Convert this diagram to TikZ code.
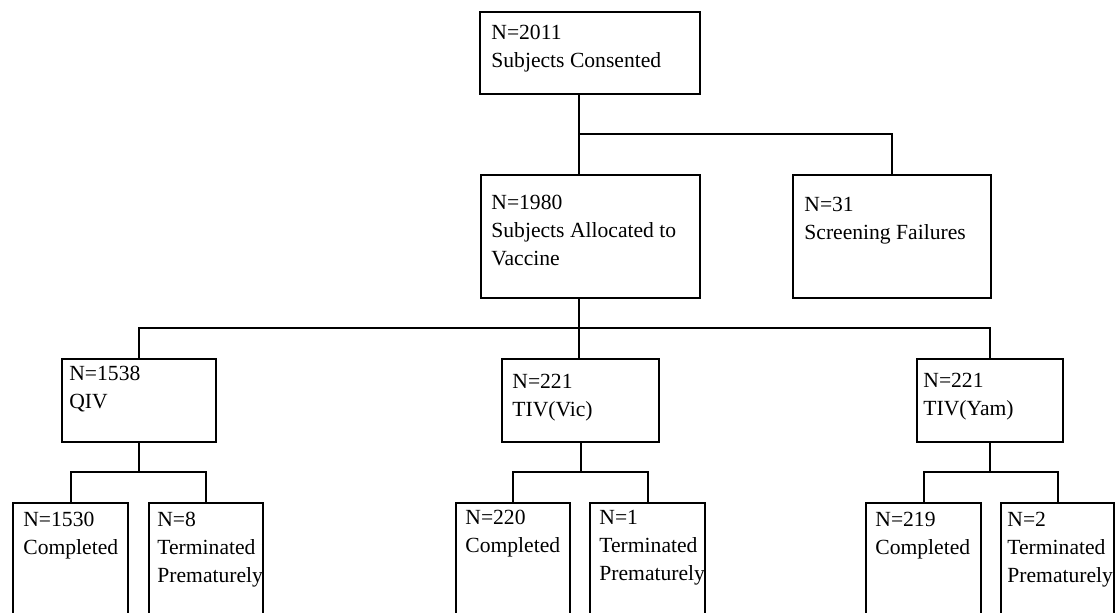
\documentclass[tikz,border=0pt]{standalone}
\usepackage{fontspec}
\setmainfont{Liberation Serif}
\tikzset{
  box/.style={draw, line width=1pt, inner sep=0pt, anchor=north west},
  txt/.style={anchor=north west, inner sep=0pt, align=left, font=\fontsize{10.8}{14}\selectfont},
  link/.style={draw, line width=1pt}
}
\begin{document}
\begin{tikzpicture}[x=0.5pt, y=-0.5pt]
  \useasboundingbox (0,0) rectangle (1117,612);
  \clip (0,0) rectangle (1117,612);
  % boxes
  \node[box, minimum width=110pt, minimum height=41pt] (consent) at (479,11) {};
  \node[box, minimum width=109.5pt, minimum height=61.5pt] (alloc) at (480,174) {};
  \node[box, minimum width=99pt, minimum height=61.5pt] (screen) at (792,174) {};
  \node[box, minimum width=77pt, minimum height=41.5pt] (qiv) at (61,358) {};
  \node[box, minimum width=78.5pt, minimum height=41.5pt] (vic) at (501,358) {};
  \node[box, minimum width=73pt, minimum height=41.5pt] (yam) at (916,358) {};
  \node[box, minimum width=57.5pt, minimum height=75pt] (qcomp) at (12,502) {};
  \node[box, minimum width=57pt, minimum height=75pt] (qterm) at (148,502) {};
  \node[box, minimum width=57pt, minimum height=75pt] (vcomp) at (455,502) {};
  \node[box, minimum width=57.5pt, minimum height=75pt] (vterm) at (589,502) {};
  \node[box, minimum width=57.5pt, minimum height=75pt] (ycomp) at (865,502) {};
  \node[box, minimum width=56.5pt, minimum height=75pt] (yterm) at (1000,502) {};
  % texts
  \node[txt] (consent-t) at ([shift={(12,14)}]consent.north west) {N=2011\\Subjects Consented};
  \node[txt] (alloc-t) at ([shift={(11,21)}]alloc.north west) {N=1980\\Subjects Allocated to\\Vaccine};
  \node[txt] (screen-t) at ([shift={(12,23)}]screen.north west) {N=31\\Screening Failures};
  \node[txt] (qiv-t) at ([shift={(8,8)}]qiv.north west) {N=1538\\QIV};
  \node[txt] (vic-t) at ([shift={(11,16)}]vic.north west) {N=221\\TIV(Vic)};
  \node[txt] (yam-t) at ([shift={(7,15)}]yam.north west) {N=221\\TIV(Yam)};
  \node[txt] (qcomp-t) at ([shift={(11,10)}]qcomp.north west) {N=1530\\Completed};
  \node[txt] (qterm-t) at ([shift={(9,10)}]qterm.north west) {N=8\\Terminated\\Prematurely};
  \node[txt] (vcomp-t) at ([shift={(10,8)}]vcomp.north west) {N=220\\Completed};
  \node[txt] (vterm-t) at ([shift={(10,8)}]vterm.north west) {N=1\\Terminated\\Prematurely};
  \node[txt] (ycomp-t) at ([shift={(10,10)}]ycomp.north west) {N=219\\Completed};
  \node[txt] (yterm-t) at ([shift={(7,10)}]yterm.north west) {N=2\\Terminated\\Prematurely};
  % connectors
  \coordinate (trunk) at (579,0);
  \coordinate (split1) at (579,134);
  \coordinate (split2) at (579,328);
  \draw[link] (trunk |- consent.south) -- (trunk |- alloc.north);
  \draw[link] (split1) -| (screen.north);
  \draw[link] (trunk |- alloc.south) -- (trunk |- vic.north);
  \draw[link] (qiv.north) |- (split2) -| (yam.north);
  \draw[link] (qiv.south) -- ++(0,29) coordinate (qsplit);
  \draw[link] (qcomp.north) |- (qsplit) -| (qterm.north);
  \draw[link] (vic.south) -- ++(0,29) coordinate (vsplit);
  \draw[link] (vcomp.north) |- (vsplit) -| (vterm.north);
  \draw[link] (yam.south) -- ++(0,29) coordinate (ysplit);
  \draw[link] (ycomp.north) |- (ysplit) -| (yterm.north);
\end{tikzpicture}
\end{document}
